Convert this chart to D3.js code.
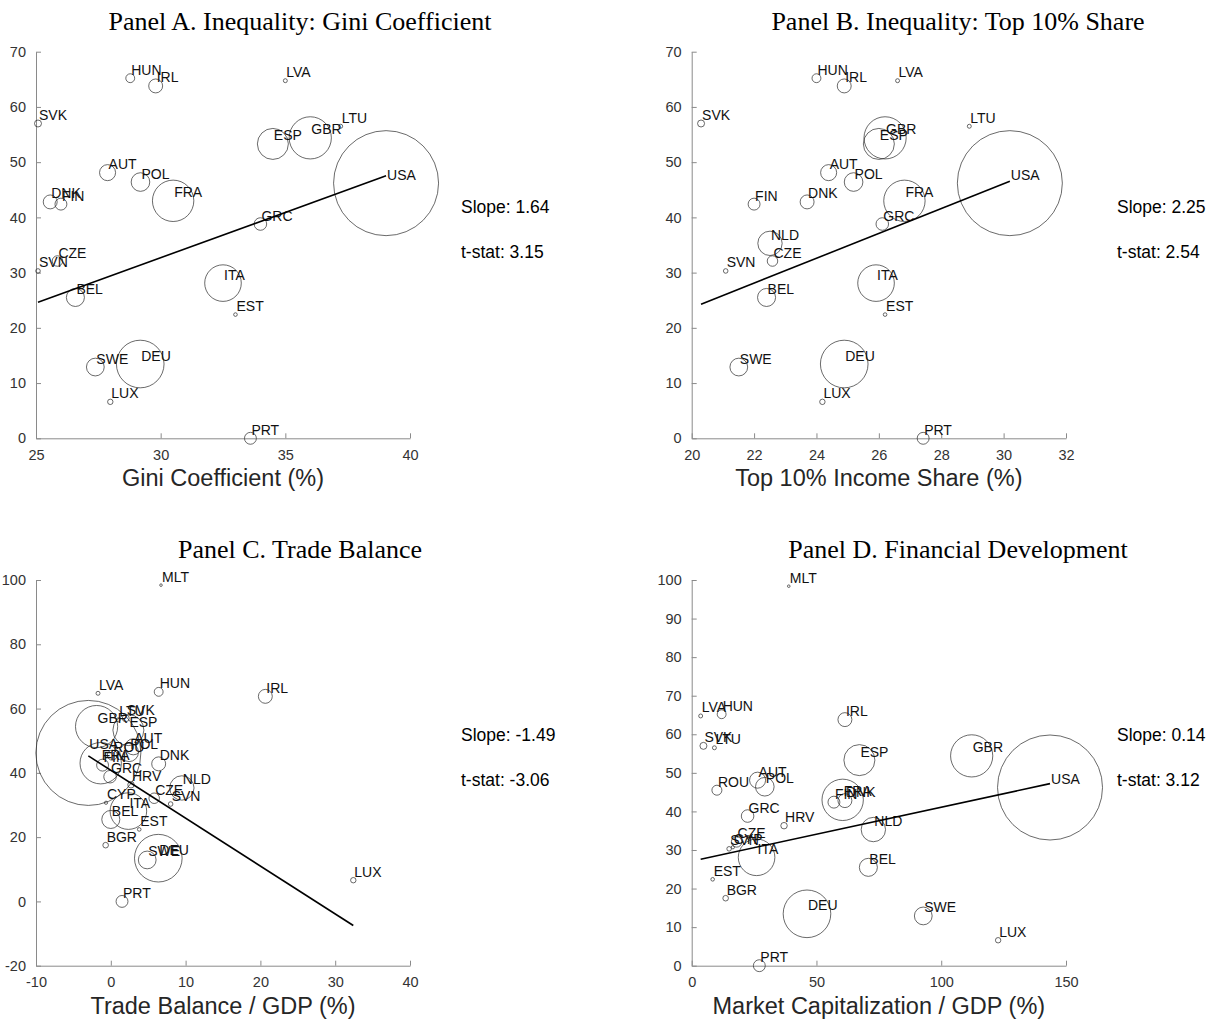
<!DOCTYPE html>
<html>
<head>
<meta charset="utf-8">
<script src="https://cdn.jsdelivr.net/npm/d3@7"></script>
<style>
  html, body { margin: 0; padding: 0; background: #fff; }
  svg { display: block; }
</style>
</head>
<body>
<svg id="chart" width="1209" height="1020"></svg>
<script>
// Country codes and the shared vertical measure plotted in every panel
const codes   = ["USA","DEU","FRA","GBR","ITA","ESP","NLD","POL","SWE","BEL","AUT","IRL","DNK","FIN","GRC","PRT","CZE","ROU","HUN","SVK","HRV","LUX","BGR","SVN","LTU","LVA","EST","CYP","MLT"];
const outcome = [46.2, 13.45, 43.0, 54.4, 28.1, 53.3, 35.3, 46.4, 12.9, 25.5, 48.1, 63.8, 42.8, 42.4, 38.8, 0.0, 32.1, 45.5, 65.2, 57.0, 36.3, 6.6, 17.5, 30.3, 56.5, 64.75, 22.4, 30.7, 98.4];
// Bubble weight (economic size)
const weight  = [21, 4.32, 3.26, 3.39, 2.55, 1.83, 1.13, 0.66, 0.60, 0.62, 0.49, 0.37, 0.37, 0.27, 0.30, 0.27, 0.21, 0.19, 0.15, 0.093, 0.08, 0.056, 0.06, 0.04, 0.03, 0.03, 0.025, 0.02, 0.012];

// Explanatory variables (null = not available)
const gini     = [39.04, 29.18, 30.5, 36.0, 32.5, 34.5, null, 29.19, 27.38, 26.58, 27.87, 29.8, 25.57, 26.0, 34.0, 33.6, 25.86, null, 28.78, 25.08, null, 27.98, null, 25.08, 37.22, 35.0, 33.0, null, null];
const top10    = [30.2, 24.89, 26.82, 26.2, 25.91, 26.0, 22.51, 25.19, 21.51, 22.4, 24.39, 24.89, 23.7, 22.0, 26.11, 27.42, 22.59, null, 24.0, 20.3, null, 24.19, null, 21.09, 28.9, 26.6, 26.2, null, null];
const tradeBal = [-3.0, 6.35, -1.35, -1.9, 2.35, 2.35, 9.5, 2.45, 4.87, 0.0, 3.0, 20.66, 6.4, -1.1, -0.1, 1.5, 5.8, 0.2, 6.4, 2.0, 2.7, 32.42, -0.69, 8.0, 1.0, -1.71, 3.8, -0.64, 6.71];
const mktCap   = [143.6, 46.2, 60.5, 112.2, 26.0, 67.2, 72.8, 29.3, 92.8, 70.8, 26.4, 61.4, 61.4, 57.0, 22.4, 27.1, 18.0, 10.1, 12.0, 4.7, 37.0, 122.8, 13.6, 15.0, 9.1, 3.6, 8.4, 16.5, 38.9];

// Panel texts, fitted lines and axis ticks
const titles     = ["Panel A. Inequality: Gini Coefficient", "Panel B. Inequality: Top 10% Share", "Panel C. Trade Balance", "Panel D. Financial Development"];
const xLabels    = ["Gini Coefficient (%)", "Top 10% Income Share (%)", "Trade Balance / GDP (%)", "Market Capitalization / GDP (%)"];
const slopes     = [1.64, 2.25, -1.49, 0.14];
const intercepts = [-16.5, -21.4, 40.8, 27.1];
const tstats     = [3.15, 2.54, -3.06, 3.12];
const xTicks = [[25, 30, 35, 40], [20, 22, 24, 26, 28, 30, 32], [-10, 0, 10, 20, 30, 40], [0, 50, 100, 150]];
const yTicks = [[0, 10, 20, 30, 40, 50, 60, 70], [0, 10, 20, 30, 40, 50, 60, 70], [-20, 0, 20, 40, 60, 80, 100], [0, 10, 20, 30, 40, 50, 60, 70, 80, 90, 100]];
const xSeries = [gini, top10, tradeBal, mktCap];

// Plot-box placement of each panel (titles sit over the panel incl. its statistics column)
const boxes = [
  {left: 36,    right: 410,  top: 51.7, bottom: 438.3, statX: 461,  titleX: 300},
  {left: 691.7, right: 1066, top: 51.7, bottom: 438.3, statX: 1117, titleX: 958},
  {left: 36,    right: 410,  top: 580,  bottom: 965.7, statX: 461,  titleX: 300},
  {left: 691.7, right: 1066, top: 580,  bottom: 965.7, statX: 1117, titleX: 958}
];

const svg = d3.select("#chart");
const sansFont = "'Liberation Sans', Arial, sans-serif";
const serifFont = "'Liberation Serif', 'Times New Roman', serif";
const axisColor = "#8a8a8a";
const tickText = "#333";
const plain = d => String(d);
const fixed2 = v => v.toFixed(2);

const rScale = d3.scaleSqrt().domain([0, d3.max(weight)]).range([0, 52.5]);

boxes.forEach((b, p) => {
  const xt = xTicks[p], yt = yTicks[p];
  const x = d3.scaleLinear().domain([xt[0], xt[xt.length - 1]]).range([b.left, b.right]);
  const y = d3.scaleLinear().domain([yt[0], yt[yt.length - 1]]).range([b.bottom, b.top]);
  const g = svg.append("g");

  // axes: ticks pointing inward, no box
  const xAxis = d3.axisBottom(x).tickValues(xt).tickSizeInner(-5).tickSizeOuter(0).tickPadding(11).tickFormat(plain);
  const yAxis = d3.axisLeft(y).tickValues(yt).tickSizeInner(-5).tickSizeOuter(0).tickPadding(10).tickFormat(plain);
  const gx = g.append("g").attr("transform", `translate(0,${b.bottom})`).call(xAxis);
  const gy = g.append("g").attr("transform", `translate(${b.left},0)`).call(yAxis);
  [gx, gy].forEach(a => {
    a.select(".domain").attr("stroke", axisColor).attr("stroke-width", 1);
    a.selectAll(".tick line").attr("stroke", axisColor);
    a.selectAll(".tick text").attr("fill", tickText).style("font-family", sansFont).style("font-size", "14.5px");
  });

  // country bubbles and labels
  const pts = codes.map((c, i) => ({code: c, xv: xSeries[p][i], yv: outcome[i], w: weight[i]}))
                   .filter(d => d.xv !== null)
                   .sort((a, b2) => b2.w - a.w);
  g.append("g").selectAll("circle").data(pts).join("circle")
    .attr("cx", d => x(d.xv)).attr("cy", d => y(d.yv)).attr("r", d => Math.max(rScale(d.w), 1.3))
    .attr("fill", "none").attr("stroke", "#2a2a2a").attr("stroke-width", 0.7);
  g.append("g").selectAll("text").data(pts).join("text")
    .attr("x", d => x(d.xv) + 1).attr("y", d => y(d.yv) - 3.5)
    .style("font-family", sansFont).style("font-size", "14px").attr("fill", "#111")
    .text(d => d.code);

  // fitted line over the observed range
  const ext = d3.extent(pts, d => d.xv);
  const line = d3.line().x(d => x(d)).y(d => y(intercepts[p] + slopes[p] * d));
  g.append("path").datum(ext).attr("d", line).attr("fill", "none").attr("stroke", "#000").attr("stroke-width", 1.6);

  // title and axis label
  g.append("text").attr("x", b.titleX).attr("y", b.top - 22)
    .attr("text-anchor", "middle").style("font-family", serifFont).style("font-size", "26px").attr("fill", "#000")
    .text(titles[p]);
  g.append("text").attr("x", (b.left + b.right) / 2).attr("y", b.bottom + 48)
    .attr("text-anchor", "middle").style("font-family", sansFont).style("font-size", "23.5px").attr("fill", "#262626")
    .text(xLabels[p]);

  // regression statistics
  g.append("text").attr("x", b.statX).attr("y", b.top + 161)
    .style("font-family", sansFont).style("font-size", "17.5px").attr("fill", "#000")
    .text("Slope: " + fixed2(slopes[p]));
  g.append("text").attr("x", b.statX).attr("y", b.top + 206)
    .style("font-family", sansFont).style("font-size", "17.5px").attr("fill", "#000")
    .text("t-stat: " + fixed2(tstats[p]));
});
</script>
</body>
</html>
